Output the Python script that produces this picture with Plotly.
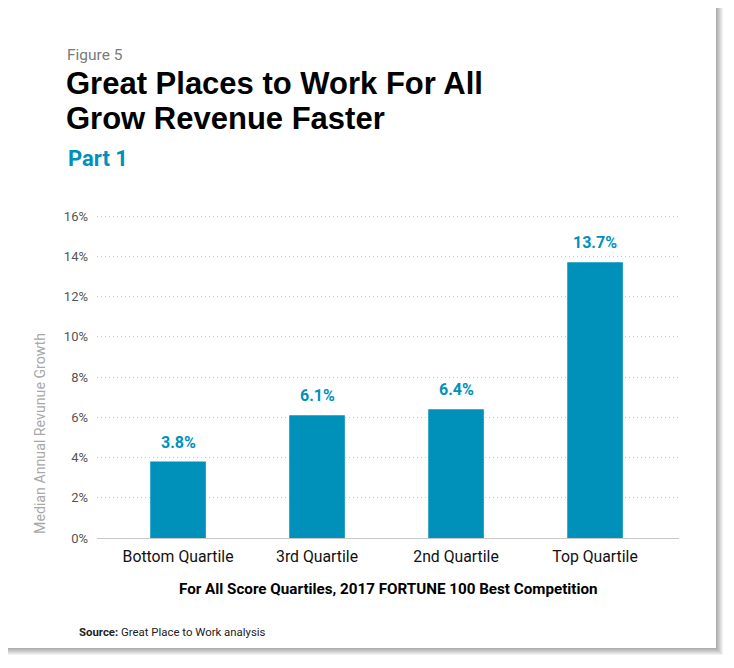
import plotly.graph_objects as go

categories = ["Bottom Quartile", "3rd Quartile", "2nd Quartile", "Top Quartile"]
values = [3.8, 6.1, 6.4, 13.7]
bar_labels = ["3.8%", "6.1%", "6.4%", "13.7%"]
y_ticks = [0, 2, 4, 6, 8, 10, 12, 14, 16]
y_tick_labels = ["0%", "2%", "4%", "6%", "8%", "10%", "12%", "14%", "16%"]

BLUE = "#0091BB"
FONT = "Roboto"
TFONT = "Liberation Sans"
OFF = 8  # page body margin
W, H = 734 - OFF, 668 - OFF
PL, PR, PT, PB = 97 - OFF, 679 - OFF, 212 - OFF, 538 - OFF  # plot area in figure px

fig = go.Figure()
fig.add_trace(go.Bar(
    x=categories, y=values, width=0.4, marker=dict(color=BLUE, line=dict(width=0)),
    hoverinfo="skip",
))

def px_rect(x0, y0, x1, y1, color, op=1.0):
    x0 -= OFF; x1 -= OFF; y0 -= OFF; y1 -= OFF
    return dict(type="rect", xref="paper", yref="paper", layer="below",
                x0=(x0 - PL) / (PR - PL), x1=(x1 - PL) / (PR - PL),
                y0=(PB - y1) / (PB - PT), y1=(PB - y0) / (PB - PT),
                fillcolor=color, opacity=op, line=dict(width=0))

shapes = []
for k in range(7, 0, -1):
    shapes.append(px_rect(8, 8, 716 + k, 648 + k, "#000000", 0.05))
shapes.append(px_rect(0, 0, 716, 648, "#FFFFFF", 1.0))

def ann(x, y, text, size, color, weight="normal", xanchor="left", family=FONT, **kw):
    x -= OFF; y -= OFF
    return dict(xref="paper", yref="paper",
                x=(x - PL) / (PR - PL), y=(PB - y) / (PB - PT),
                text=text, showarrow=False, xanchor=xanchor, yanchor="middle",
                font=dict(family=family, size=size, color=color, weight=weight), **kw)

annotations = [
    ann(65, 55, "Figure 5", 15.5, "#7A7A7A"),
    ann(64, 83, "Great Places to Work For All", 31, "#000000", "bold", family=TFONT),
    ann(64, 118, "Grow Revenue Faster", 31, "#000000", "bold", family=TFONT),
    ann(66, 158, "Part 1", 22, BLUE, "bold"),
    ann(40, 434, "Median Annual Revunue Growth", 14.2, "#A8A8A8", xanchor="center", textangle=-90),
    ann(388, 589, "For All Score Quartiles, 2017 FORTUNE 100 Best Competition", 15.2, "#000000", "bold", xanchor="center"),
    ann(77, 632, "<b>Source:</b> Great Place to Work analysis", 11.4, "#222222"),
]
for c, v, t in zip(categories, values, bar_labels):
    annotations.append(dict(x=c, y=v, xref="x", yref="y", text=t, showarrow=False,
                            yanchor="bottom", yshift=8,
                            font=dict(family=FONT, size=16, color=BLUE, weight="bold")))

fig.update_layout(
    width=W, height=H,
    margin=dict(l=PL, r=W - PR, t=PT, b=H - PB, pad=0),
    paper_bgcolor="#FFFFFF", plot_bgcolor="rgba(0,0,0,0)",
    showlegend=False,
    shapes=shapes, annotations=annotations,
    font=dict(family=FONT),
)
fig.update_xaxes(
    range=[-0.583, 3.604], showgrid=False, showline=True, linecolor="#C8C8C8", linewidth=1,
    ticks="", tickfont=dict(family=FONT, size=15.8, color="#111111"), ticklabelstandoff=4,
)
fig.update_yaxes(
    range=[0, 16.2], tickvals=y_ticks, ticktext=y_tick_labels,
    showgrid=True, gridcolor="#C8C8C8", griddash="1px,3px", gridwidth=1,
    zeroline=False, showline=False, ticks="",
    tickfont=dict(family=FONT, size=13, color="#555555"), ticklabelstandoff=8,
)
fig.write_html("out.html")
